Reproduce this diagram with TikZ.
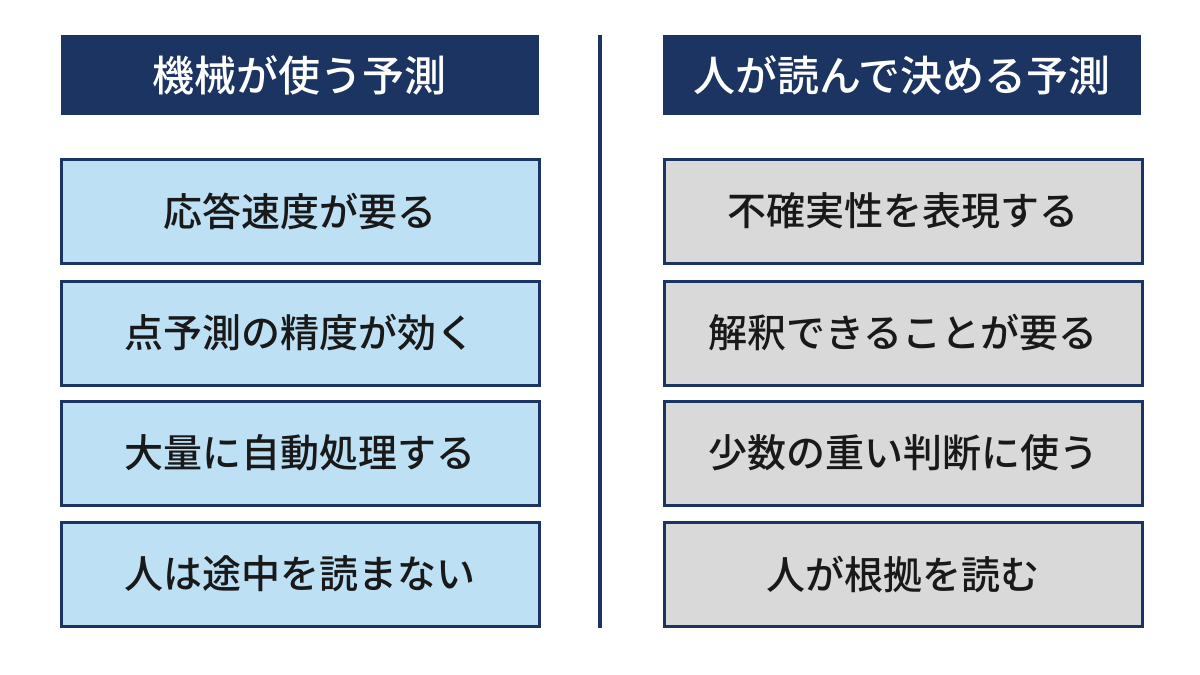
\documentclass[tikz,border=0pt]{standalone}
\usepackage{fontspec}
\newfontfamily\cjk{Noto Sans CJK JP Medium}
\definecolor{navy}{HTML}{1B3461}
\definecolor{lblue}{HTML}{BEE0F5}
\definecolor{lgray}{HTML}{D9D9D9}
\tikzset{
  hdr/.style={fill=navy, draw=none, text=white, minimum width=239pt, minimum height=40pt, inner sep=0pt, font=\cjk\fontsize{21pt}{24pt}\selectfont},
  itemb/.style={draw=navy, line width=1.5pt, minimum width=239pt, minimum height=52pt, inner sep=0pt, font=\cjk\fontsize{19.5pt}{23pt}\selectfont, text=black!90},
  lbox/.style={itemb, fill=lblue},
  gbox/.style={itemb, fill=lgray},
}
\begin{document}
\begin{tikzpicture}[x=0.5pt,y=-0.5pt]
\useasboundingbox (0,0) rectangle (1200,675);
\fill[white] (0,0) rectangle (1200,675);
\node[hdr] (h1) at (299.5,75) {機械が使う予測};
\node[hdr] (h2) at (902,75) {人が読んで決める予測};
\coordinate (dt) at (600,35);
\coordinate (db) at (600,628);
\draw[navy, line width=2pt] (dt) -- (db);
\node[lbox] (l1) at (300,211) {応答速度が要る};
\node[lbox] (l2) at (300,333) {点予測の精度が効く};
\node[lbox] (l3) at (300,453) {大量に自動処理する};
\node[lbox] (l4) at (300,574) {人は途中を読まない};
\node[gbox] (r1) at (903,211) {不確実性を表現する};
\node[gbox] (r2) at (903,333) {解釈できることが要る};
\node[gbox] (r3) at (903,453) {少数の重い判断に使う};
\node[gbox] (r4) at (903,574) {人が根拠を読む};
\end{tikzpicture}
\end{document}
